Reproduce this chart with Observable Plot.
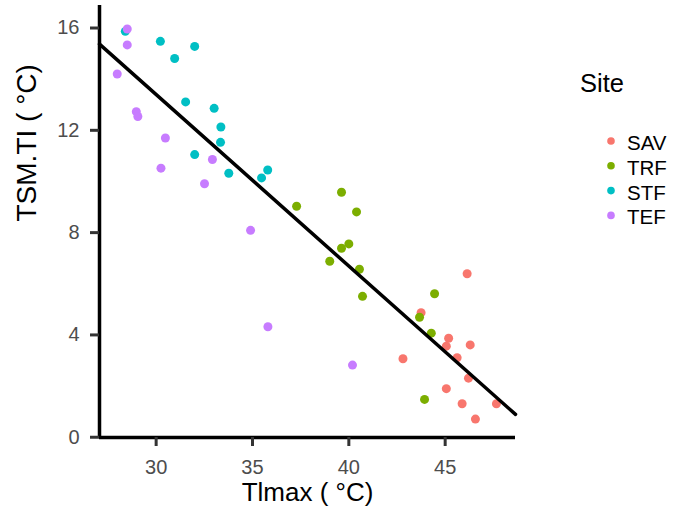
<!DOCTYPE html>
<html><head><meta charset="utf-8">
<script src="https://cdn.jsdelivr.net/npm/d3@7"></script>
<script src="https://cdn.jsdelivr.net/npm/@observablehq/plot@0.6"></script>
<style>
body{margin:0;background:#fff;font-family:"Liberation Sans",Arial,sans-serif}
#wrap{position:relative;width:673px;height:517px}
#legend{position:absolute;left:0;top:0}
</style></head><body><div id="wrap"></div>
<script>
const sites = ["SAV","TRF","STF","TEF"];
const colors = ["#F8766D","#7CAE00","#00BFC4","#C77CFF"];
const savX = [43.75,46.14,45.18,45.06,46.30,45.62,42.81,46.21,45.06,45.88,47.66,46.57];
const savY = [4.87,6.39,3.87,3.56,3.61,3.11,3.07,2.31,1.90,1.31,1.31,0.71];
const trfX = [37.29,39.62,40.40,40.00,39.62,39.01,40.55,40.71,44.45,43.67,44.28,43.93];
const trfY = [9.03,9.58,8.81,7.56,7.39,6.88,6.57,5.51,5.61,4.69,4.07,1.48];
const stfX = [28.40,30.22,32.00,30.96,31.53,33.01,33.36,33.34,32.00,33.77,35.79,35.47];
const stfY = [15.87,15.48,15.28,14.81,13.11,12.86,12.13,11.53,11.05,10.32,10.45,10.14];
const tefX = [28.50,28.50,27.98,28.97,29.05,30.48,32.92,30.25,32.51,34.90,35.80,40.19];
const tefY = [15.96,15.34,14.20,12.73,12.54,11.70,10.86,10.52,9.91,8.09,4.32,2.82];
const xTicks = [30,35,40,45];
const yTicks = [0,4,8,12,16];
const xDomain = [27.06,48.65];
const yDomain = [-0.01,16.88];
const xLabel = "Tlmax ( °C)";
const yLabel = "TSM.TI ( °C)";
const legendTitle = "Site";

const seriesX = [savX,trfX,stfX,tefX];
const seriesY = [savY,trfY,stfY,tefY];
const rows = [];
sites.forEach((s,i)=>seriesX[i].forEach((x,j)=>rows.push({site:s,x,y:seriesY[i][j]})));

// least-squares fit over all points, drawn across the full x range
const mx = d3.mean(rows,d=>d.x), my = d3.mean(rows,d=>d.y);
const b = d3.sum(rows,d=>(d.x-mx)*(d.y-my))/d3.sum(rows,d=>(d.x-mx)**2);
const a = my - b*mx;
const fit = xDomain.map(x=>({x, y:a+b*x}));

const chart = Plot.plot({
  width:673, height:517,
  marginLeft:99, marginRight:158, marginTop:5, marginBottom:80,
  x:{domain:xDomain}, y:{domain:yDomain},
  color:{domain:sites, range:colors},
  style:{fontFamily:"'Liberation Sans', Arial, sans-serif", background:"white"},
  marks:[
    Plot.dot(rows,{x:"x",y:"y",fill:"site",r:4.5}),
    Plot.line(fit,{x:"x",y:"y",stroke:"black",strokeWidth:3.5}),
    Plot.ruleX([xDomain[0]],{stroke:"black",strokeWidth:3.5}),
    Plot.ruleY([yDomain[0]],{stroke:"black",strokeWidth:3.5}),
    Plot.axisX({ticks:xTicks, tickSize:9, tickPadding:13, strokeWidth:3, stroke:"#333", fill:"#4d4d4d", fontSize:20, label:null}),
    Plot.axisY({ticks:yTicks, tickSize:9, tickPadding:11, strokeWidth:3, stroke:"#333", fill:"#4d4d4d", fontSize:20, label:null}),
    Plot.text([xLabel],{text:d=>d, frameAnchor:"bottom", dy:63, fontSize:26, fill:"black"}),
    Plot.text([yLabel],{text:d=>d, frameAnchor:"left", dx:-72, rotate:-90, fontSize:28, fill:"black"})
  ]
});
const wrap = document.getElementById("wrap");
wrap.appendChild(chart);

// legend overlay in the right margin
const ns = "http://www.w3.org/2000/svg";
const lg = document.createElementNS(ns,"svg");
lg.setAttribute("id","legend"); lg.setAttribute("width",673); lg.setAttribute("height",517);
lg.style.pointerEvents="none";
const t = document.createElementNS(ns,"text");
t.setAttribute("x",580); t.setAttribute("y",92); t.setAttribute("font-size",25.5);
t.setAttribute("font-family","'Liberation Sans', Arial, sans-serif");
t.textContent = legendTitle; lg.appendChild(t);
sites.forEach((s,i)=>{
  const cy = 141 + i*24.8;
  const c = document.createElementNS(ns,"circle");
  c.setAttribute("cx",611); c.setAttribute("cy",cy); c.setAttribute("r",3.8);
  c.setAttribute("fill",colors[i]); lg.appendChild(c);
  const tx = document.createElementNS(ns,"text");
  tx.setAttribute("x",627); tx.setAttribute("y",cy+9); tx.setAttribute("font-size",20.5);
  tx.setAttribute("font-family","'Liberation Sans', Arial, sans-serif");
  tx.textContent = s; lg.appendChild(tx);
});
wrap.appendChild(lg);
</script></body></html>
